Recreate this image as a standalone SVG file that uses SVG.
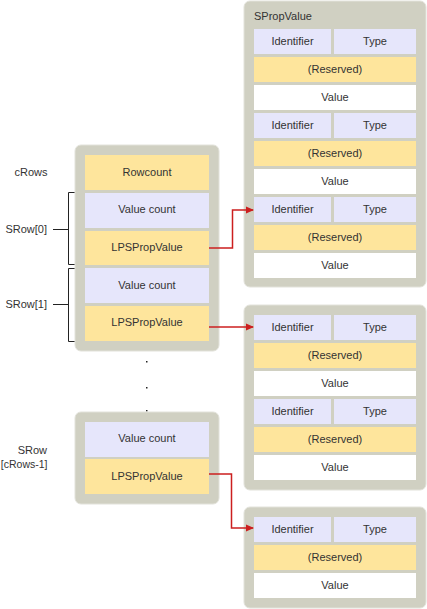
<svg xmlns="http://www.w3.org/2000/svg" width="427" height="609" viewBox="0 0 427 609">
<defs>
<style>
.panel{fill:#d0d0c2;stroke:#e2e2da;stroke-width:1}
.y{fill:#fee59c}
.l{fill:#e6e6fb}
.w{fill:#ffffff}
text{font-family:"Liberation Sans",Arial,sans-serif;font-size:11px;fill:#333333}
.c{text-anchor:middle}
.r{text-anchor:end}
.br{fill:none;stroke:#222222;stroke-width:1}
.ar{fill:none;stroke:#cc1f1f;stroke-width:1.5}
</style>
<marker id="ah" markerWidth="8" markerHeight="8" refX="7" refY="4" orient="auto" markerUnits="userSpaceOnUse">
<path d="M0,0.5 L8,4 L0,7.5 Z" fill="#cc1f1f"/>
</marker>
</defs>
<rect width="427" height="609" fill="#ffffff"/>

<g id="labels">
<text x="31" y="176" class="c">cRows</text>
<text x="47" y="233" class="r">SRow[0]</text>
<text x="47" y="308" class="r">SRow[1]</text>
<text x="47" y="454" class="r">SRow</text>
<text x="47.5" y="468" class="r" style="font-size:10.5px">[cRows-1]</text>
</g>

<g id="brackets">
<path class="br" d="M83,192.5 H68.5 V264.5 H83 M53,229.5 H68.5"/>
<path class="br" d="M83,268.5 H68.5 V341.5 H83 M53,304.5 H68.5"/>
</g>

<g id="dots" fill="#222222">
<rect x="146" y="361" width="1.5" height="1.5"/>
<rect x="146" y="387" width="1.5" height="1.5"/>
<rect x="146" y="410" width="1.5" height="1.5"/>
</g>

<g id="srowset">
<rect class="panel" x="75" y="145" width="144" height="206" rx="6"/>
<rect class="y" x="85" y="155" width="124" height="35"/>
<text x="147" y="176" class="c">Rowcount</text>
<rect class="l" x="85" y="193" width="124" height="35"/>
<text x="147" y="213" class="c">Value count</text>
<rect class="y" x="85" y="231" width="124" height="34"/>
<text x="147" y="251" class="c">LPSPropValue</text>
<rect class="l" x="85" y="268" width="124" height="35"/>
<text x="147" y="289" class="c">Value count</text>
<rect class="y" x="85" y="306" width="124" height="35"/>
<text x="147" y="326" class="c">LPSPropValue</text>
</g>

<g id="srowlast">
<rect class="panel" x="75" y="412" width="144" height="92" rx="6"/>
<rect class="l" x="85" y="422" width="124" height="35"/>
<text x="147" y="442" class="c">Value count</text>
<rect class="y" x="85" y="459" width="124" height="35"/>
<text x="147" y="480" class="c">LPSPropValue</text>
</g>

<g id="spropvalue1">
<rect class="panel" x="244" y="1" width="182" height="286" rx="6"/>
<text x="254" y="20">SPropValue</text>
<rect class="l" x="254" y="29" width="77" height="25"/><text x="292.5" y="45" class="c">Identifier</text>
<rect class="l" x="334" y="29" width="82" height="25"/><text x="375" y="45" class="c">Type</text>
<rect class="y" x="254" y="57" width="162" height="25"/><text x="335" y="73" class="c">(Reserved)</text>
<rect class="w" x="254" y="85" width="162" height="25"/><text x="335" y="101" class="c">Value</text>
<rect class="l" x="254" y="113" width="77" height="25"/><text x="292.5" y="129" class="c">Identifier</text>
<rect class="l" x="334" y="113" width="82" height="25"/><text x="375" y="129" class="c">Type</text>
<rect class="y" x="254" y="141" width="162" height="25"/><text x="335" y="157" class="c">(Reserved)</text>
<rect class="w" x="254" y="169" width="162" height="25"/><text x="335" y="185" class="c">Value</text>
<rect class="l" x="254" y="197" width="77" height="25"/><text x="292.5" y="213" class="c">Identifier</text>
<rect class="l" x="334" y="197" width="82" height="25"/><text x="375" y="213" class="c">Type</text>
<rect class="y" x="254" y="225" width="162" height="25"/><text x="335" y="241" class="c">(Reserved)</text>
<rect class="w" x="254" y="253" width="162" height="25"/><text x="335" y="269" class="c">Value</text>
</g>

<g id="spropvalue2">
<rect class="panel" x="244" y="305" width="182" height="185" rx="6"/>
<rect class="l" x="254" y="315" width="77" height="25"/><text x="292.5" y="331" class="c">Identifier</text>
<rect class="l" x="334" y="315" width="82" height="25"/><text x="375" y="331" class="c">Type</text>
<rect class="y" x="254" y="343" width="162" height="25"/><text x="335" y="359" class="c">(Reserved)</text>
<rect class="w" x="254" y="371" width="162" height="25"/><text x="335" y="387" class="c">Value</text>
<rect class="l" x="254" y="399" width="77" height="25"/><text x="292.5" y="415" class="c">Identifier</text>
<rect class="l" x="334" y="399" width="82" height="25"/><text x="375" y="415" class="c">Type</text>
<rect class="y" x="254" y="427" width="162" height="25"/><text x="335" y="443" class="c">(Reserved)</text>
<rect class="w" x="254" y="455" width="162" height="25"/><text x="335" y="471" class="c">Value</text>
</g>

<g id="spropvalue3">
<rect class="panel" x="244" y="507" width="182" height="101" rx="6"/>
<rect class="l" x="254" y="517" width="77" height="25"/><text x="292.5" y="533" class="c">Identifier</text>
<rect class="l" x="334" y="517" width="82" height="25"/><text x="375" y="533" class="c">Type</text>
<rect class="y" x="254" y="545" width="162" height="25"/><text x="335" y="561" class="c">(Reserved)</text>
<rect class="w" x="254" y="573" width="162" height="25"/><text x="335" y="589" class="c">Value</text>
</g>

<g id="connectors">
<path class="ar" d="M209,248 H232.5 V210 H253" marker-end="url(#ah)"/>
<path class="ar" d="M209,327 H253" marker-end="url(#ah)"/>
<path class="ar" d="M209,474 H231.5 V528 H253" marker-end="url(#ah)"/>
</g>
</svg>
